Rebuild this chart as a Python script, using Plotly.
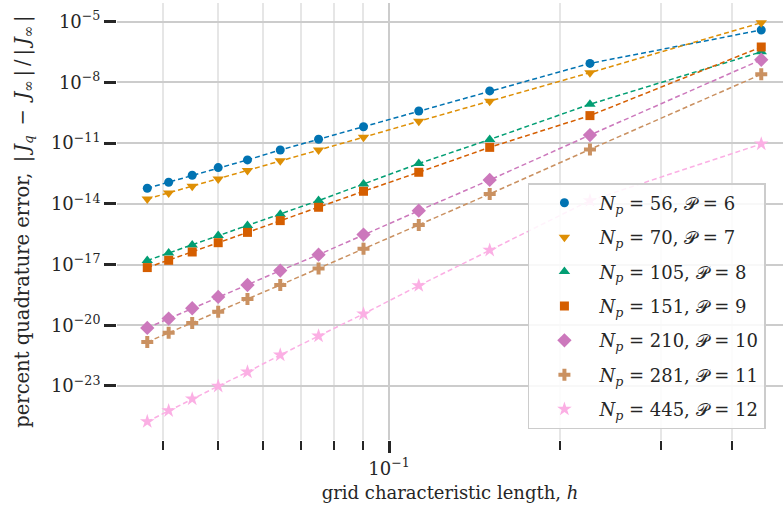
import plotly.graph_objects as go

h = [0.0376, 0.0410, 0.0451, 0.0501, 0.0564, 0.0644, 0.0752, 0.0902, 0.1128, 0.1503, 0.2255, 0.451]

err_56 = [5.9e-14, 1.17e-13, 2.57e-13, 6.17e-13, 1.48e-12, 4.57e-12, 1.55e-11, 6.46e-11, 3.89e-10, 3.80e-9, 8.71e-8, 3.89e-6]
err_70 = [1.74e-14, 3.47e-14, 7.41e-14, 1.70e-13, 4.47e-13, 1.35e-12, 4.57e-12, 1.95e-11, 1.20e-10, 1.17e-9, 3.02e-8, 8.91e-6]
err_105 = [1.58e-17, 3.72e-17, 9.12e-17, 2.69e-16, 8.51e-16, 3.09e-15, 1.45e-14, 9.55e-14, 9.77e-13, 1.51e-11, 8.32e-10, 3.24e-7]
err_151 = [7.08e-18, 1.62e-17, 4.17e-17, 1.20e-16, 3.89e-16, 1.48e-15, 6.76e-15, 4.17e-14, 3.63e-13, 6.17e-12, 2.29e-10, 5.62e-7]
err_210 = [7.41e-21, 2.14e-20, 6.92e-20, 2.51e-19, 9.77e-19, 5.01e-18, 3.09e-17, 3.02e-16, 4.57e-15, 1.51e-13, 2.51e-11, 1.32e-7]
err_281 = [1.48e-21, 4.27e-21, 1.29e-20, 4.68e-20, 2.00e-19, 9.77e-19, 6.31e-18, 6.03e-17, 9.12e-16, 3.09e-14, 4.90e-12, 2.51e-8]
err_445 = [1.74e-25, 6.03e-25, 2.29e-24, 9.77e-24, 4.90e-23, 3.39e-22, 2.95e-21, 3.63e-20, 9.12e-19, 5.13e-17, 1.45e-14, 9.12e-12]

series_np = [56, 70, 105, 151, 210, 281, 445]
series_P = [6, 7, 8, 9, 10, 11, 12]
series_err = [err_56, err_70, err_105, err_151, err_210, err_281, err_445]
colors = ["#0173b2", "#de8f05", "#029e73", "#d55e00", "#cc78bc", "#ca9161", "#fbafe4"]
symbols = ["circle", "triangle-down", "triangle-up", "square", "diamond", "cross", "star"]
sizes = [9, 10, 10, 9, 11, 10, 11]

y_tickvals = [1e-5, 1e-8, 1e-11, 1e-14, 1e-17, 1e-20, 1e-23]
y_ticktext = ["10<sup>−5</sup>", "10<sup>−8</sup>", "10<sup>−11</sup>", "10<sup>−14</sup>",
              "10<sup>−17</sup>", "10<sup>−20</sup>", "10<sup>−23</sup>"]
x_tickvals = [0.1]
x_ticktext = ["10<sup>−1</sup>"]
x_minor = [0.04, 0.05, 0.06, 0.07, 0.08, 0.09, 0.2, 0.3, 0.4]

FONT = "DejaVu Serif"
FS = 18
TXT = "#262626"

fig = go.Figure()
# dashed connecting lines (not in legend)
for err, c in zip(series_err, colors):
    fig.add_trace(go.Scatter(
        x=h, y=err, mode="lines", showlegend=False, hoverinfo="skip",
        line=dict(color=c, width=1.5, dash="5px,3px"),
    ))
# markers (legend entries)
for npv, P, err, c, s, sz in zip(series_np, series_P, series_err, colors, symbols, sizes):
    fig.add_trace(go.Scatter(
        x=h, y=err, mode="markers",
        name=f"<i>N</i><sub><i>p</i></sub> = {npv}, 𝒫 = {P}",
        legendgroup=str(npv),
        marker=dict(color=c, symbol=s, size=sz, line=dict(width=0)),
    ))

EN = "\u2002"
TH = "\u2009"
ytitle = ("percent quadrature error, " + TH + "|" + TH + "<i>J</i><sub><i>q</i></sub>" + EN + "−" + EN +
          "<i>J</i><sub>∞</sub>" + TH + "|" + TH + "/" + TH + "|" + TH + "<i>J</i><sub>∞</sub>" + TH + "|")

fig.update_layout(
    width=783, height=514,
    margin=dict(l=117, r=0, t=3, b=74),
    plot_bgcolor="white", paper_bgcolor="white",
    font=dict(family=FONT, size=FS, color=TXT),
    showlegend=True,
    legend=dict(
        x=0.617, y=0.588, xanchor="left", yanchor="top",
        bgcolor="rgba(255,255,255,0.85)", bordercolor="#cccccc", borderwidth=1.5,
        font=dict(family=FONT, size=FS, color=TXT),
        tracegroupgap=8, itemwidth=60,
    ),
    xaxis=dict(
        type="log", range=[-1.478, -0.3076],
        tickmode="array", tickvals=x_tickvals, ticktext=x_ticktext,
        ticks="outside", ticklen=12, tickwidth=2.5, tickcolor=TXT,
        showgrid=True, gridcolor="#cccccc", gridwidth=1.8,
        minor=dict(tickmode="array", tickvals=x_minor, ticks="outside", ticklen=9,
                   tickwidth=2, tickcolor=TXT, showgrid=True,
                   gridcolor="#e6e6e6", gridwidth=1.6),
        showline=False, zeroline=False,
        title=dict(text="grid characteristic length, <i>h</i>", standoff=8,
                   font=dict(family=FONT, size=FS, color=TXT)),
        tickfont=dict(family=FONT, size=FS, color=TXT),
    ),
    yaxis=dict(
        type="log", range=[-25.67, -4.076],
        tickmode="array", tickvals=y_tickvals, ticktext=y_ticktext,
        ticks="outside", ticklen=12, tickwidth=2.5, tickcolor=TXT,
        showgrid=True, gridcolor="#cccccc", gridwidth=1.8,
        showline=False, zeroline=False,
        title=dict(text=ytitle, standoff=16, font=dict(family=FONT, size=19.5, color=TXT)),
        tickfont=dict(family=FONT, size=FS, color=TXT),
    ),
)

fig.write_html("out.html")
